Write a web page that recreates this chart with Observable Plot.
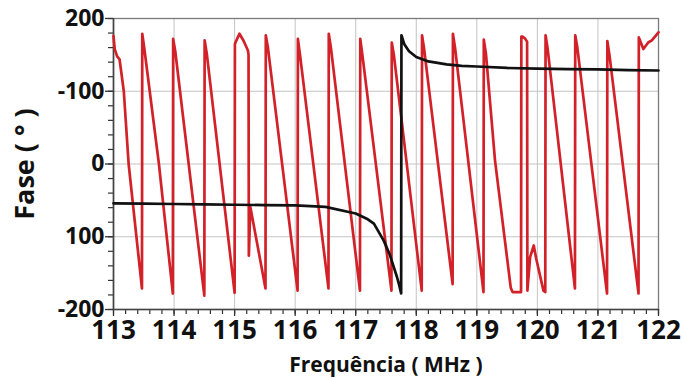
<!DOCTYPE html>
<html>
<head>
<meta charset="utf-8">
<script src="https://cdn.jsdelivr.net/npm/d3@7"></script>
<script src="https://cdn.jsdelivr.net/npm/@observablehq/plot@0.6"></script>
<style>
  html, body { margin: 0; padding: 0; background: #fff; }
  svg { display: block; }
</style>
</head>
<body>
<div id="chart"></div>
<script>
// ---- data ----
const xTicks = [113, 114, 115, 116, 117, 118, 119, 120, 121, 122];
const xTickLabels = ["113", "114", "115", "116", "117", "118", "119", "120", "121", "122"];
const yTicks = [-200, -100, 0, 100, 200];
const yTickLabels = ["-200", "100", "0", "-100", "200"]; // as printed on the original

// red trace (frequency MHz, phase °)
const redX = [113.000, 113.020, 113.060, 113.100, 113.170, 113.250, 113.470,
  113.475, 113.510, 113.750, 113.980,
  113.985, 114.020, 114.500,
  114.505, 114.540, 115.000,
  115.005, 115.030, 115.080, 115.150, 115.220, 115.230, 115.235, 115.260, 115.510,
  115.515, 115.550, 116.040,
  116.045, 116.080, 116.550,
  116.555, 116.590, 117.070,
  117.075, 117.110, 117.590,
  117.595, 117.630, 118.090,
  118.095, 118.130, 118.600,
  118.605, 118.640, 119.110,
  119.115, 119.150, 119.300, 119.560, 119.590, 119.730,
  119.735, 119.760, 119.800, 119.830, 119.835, 119.880, 119.940, 119.980, 120.100, 120.130,
  120.135, 120.170, 120.620,
  120.625, 120.660, 121.150,
  121.155, 121.190, 121.670,
  121.675, 121.750, 121.830, 121.890, 122.000];
const redY = [176, 158, 148, 144, 100, 0, -171,
  179, 158, 0, -178,
  172, 155, -181,
  170, 152, -177,
  165, 170, 179, 169, 156, 150, -126, -59, -171,
  177, 160, -174,
  172, 150, -171,
  179, 160, -174,
  172, 150, -174,
  167, 150, -174,
  177, 158, -165,
  179, 160, -176,
  171, 152, 5, -170, -176, -176,
  175, 175, 172, 168, -174, -128, -112, -130, -174, -176,
  177, 158, -171,
  177, 160, -178,
  169, 150, -178,
  174, 158, 167, 170, 181];

// black trace (frequency MHz, phase °)
const blackX = [113.0, 113.5, 114.0, 114.5, 115.0, 115.5, 116.0, 116.5, 117.0, 117.2, 117.3,
  117.46, 117.56, 117.63, 117.68, 117.71, 117.75, 117.755, 117.8, 117.88, 118.0, 118.2,
  118.5, 118.75, 119.0, 119.5, 120.0, 120.5, 121.0, 121.5, 122.0];
const blackY = [-54, -54.5, -55, -55.5, -56, -56.5, -57, -59, -68, -76, -82,
  -105, -124, -142, -155, -164, -178, 177, 165, 155, 147, 141,
  137, 135, 134, 132, 131, 130.5, 130, 129, 128.5];

const font = "'Open Sans', 'DejaVu Sans', sans-serif";

const plot = Plot.plot({
  width: 682,
  height: 378,
  marginLeft: 113,
  marginRight: 24,
  marginTop: 18,
  marginBottom: 69,
  x: { domain: [113, 122] },
  y: { domain: [-200, 200] },
  style: { fontFamily: font, fontWeight: 700, background: "#fff", color: "#111" },
  marks: [
    Plot.gridX(xTicks, { stroke: "#c4c4c4", strokeOpacity: 1, strokeWidth: 1 }),
    Plot.gridY(yTicks, { stroke: "#c4c4c4", strokeOpacity: 1, strokeWidth: 1 }),
    Plot.frame({ stroke: "#7a7a7a", strokeWidth: 1.3 }),
    // minor ticks
    Plot.axisX(d3.range(113, 122.001, 0.2), { tickSize: 5, tickFormat: () => "", label: null, stroke: "#333", strokeWidth: 1.2 }),
    Plot.axisY(d3.range(-200, 200.001, 20), { tickSize: 5, tickFormat: () => "", label: null, stroke: "#333", strokeWidth: 1.2 }),
    // major ticks + labels
    Plot.axisX(xTicks, {
      tickSize: 7, tickPadding: 4, fontSize: 26, fontWeight: 700, label: null,
      stroke: "#333", strokeWidth: 1.3,
      tickFormat: d => xTickLabels[xTicks.indexOf(d)]
    }),
    Plot.axisY(yTicks, {
      tickSize: 8, tickPadding: 1, fontSize: 23, fontWeight: 700, label: null,
      stroke: "#333", strokeWidth: 1.3,
      tickFormat: d => yTickLabels[yTicks.indexOf(d)]
    }),
    Plot.ruleX([113], { stroke: "#444", strokeWidth: 1.6 }),
    Plot.ruleY([-200], { stroke: "#444", strokeWidth: 1.6 }),
    // data
    Plot.line(redY, { x: redX, y: redY, stroke: "#d22128", strokeWidth: 2.7, strokeLinejoin: "round" }),
    Plot.line(blackY, { x: blackX, y: blackY, stroke: "#111", strokeWidth: 2.7, strokeLinejoin: "round" }),
    // axis titles
    Plot.text(["Frequência ( MHz )"], {
      text: d => d, frameAnchor: "bottom", lineAnchor: "middle", textAnchor: "middle",
      dy: 56, fontSize: 21, fontWeight: 700, fill: "#111"
    }),
    Plot.text(["Fase ( ° )"], {
      text: d => d, frameAnchor: "left", lineAnchor: "middle", textAnchor: "middle",
      rotate: -90, dx: -88, fontSize: 27, fontWeight: 700, fill: "#111"
    })
  ]
});

document.getElementById("chart").appendChild(plot);
</script>
</body>
</html>
